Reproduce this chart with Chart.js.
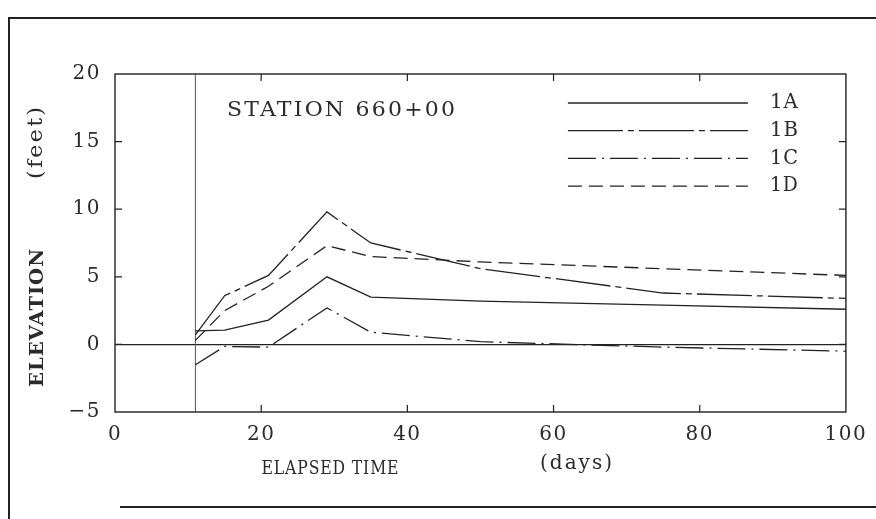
<!DOCTYPE html>
<html>
<head>
<meta charset="utf-8">
<script src="https://cdn.jsdelivr.net/npm/chart.js@4.4.1/dist/chart.umd.min.js"></script>
<style>
  html, body { margin: 0; padding: 0; background: #fff; }
  #wrap { position: relative; width: 876px; height: 519px; }
</style>
</head>
<body>
<div id="wrap"><canvas id="elevationChart" width="876" height="519"></canvas></div>
<script>
// Station 660+00 elevation readings (feet) vs elapsed time (days)
const days = [11, 15, 21, 29, 35, 50, 75, 100];
const elev1A = [1.0, 1.05, 1.8, 5.0, 3.5, 3.2, 2.9, 2.6];
const elev1B = [0.7, 3.6, 5.1, 9.8, 7.5, 5.6, 3.8, 3.4];
const elev1C = [-1.5, -0.15, -0.2, 2.7, 0.9, 0.2, -0.2, -0.5];
const elev1D = [0.3, 2.5, 4.3, 7.3, 6.5, 6.1, 5.6, 5.1];
const seriesNames = ['1A', '1B', '1C', '1D'];
const xTicks = [0, 20, 40, 60, 80, 100];
const yTicks = [-5, 0, 5, 10, 15, 20];
const startDay = 11; // readings start here (vertical marker)

const ink = '#222';
const textInk = '#2b2b2b';
const serif = '"DejaVu Serif", "Liberation Serif", serif';

function series(label, values, dash) {
    return {
        label: label,
        data: days.map((d, i) => ({ x: d, y: values[i] })),
        borderColor: ink,
        borderWidth: 1.3,
        borderDash: dash,
        pointRadius: 0,
        tension: 0,
        fill: false
    };
}

// draw text at a given size, squeezed or stretched sideways to span `width`
function spacedText(ctx, text, cx, cy, font, width, spacing, angle) {
    ctx.save();
    ctx.font = font;
    ctx.letterSpacing = spacing + 'px';
    const natural = ctx.measureText(text).width - spacing;
    ctx.translate(cx, cy);
    if (angle) ctx.rotate(angle);
    ctx.scale(width / natural, 1);
    ctx.fillStyle = textInk;
    ctx.textAlign = 'left';
    ctx.textBaseline = 'middle';
    ctx.fillText(text, -natural / 2, 0);
    ctx.restore();
}

const decorations = {
    id: 'decorations',
    beforeDraw(chart) {
        chart.ctx.letterSpacing = '1.5px';
    },
    afterDraw(chart) {
        const ctx = chart.ctx;
        const a = chart.chartArea;
        const xs = chart.scales.x, ys = chart.scales.y;
        ctx.save();
        ctx.letterSpacing = '0px';

        // plot box
        ctx.strokeStyle = ink;
        ctx.lineWidth = 1.4;
        ctx.strokeRect(a.left, a.top, a.right - a.left, a.bottom - a.top);

        // inward tick marks on all four sides
        ctx.lineWidth = 1.2;
        ctx.beginPath();
        xTicks.slice(1, -1).forEach(v => {
            const px = xs.getPixelForValue(v);
            ctx.moveTo(px, a.bottom); ctx.lineTo(px, a.bottom - 7);
            ctx.moveTo(px, a.top); ctx.lineTo(px, a.top + 7);
        });
        yTicks.slice(1, -1).forEach(v => {
            const py = ys.getPixelForValue(v);
            ctx.moveTo(a.left, py); ctx.lineTo(a.left + 7, py);
            ctx.moveTo(a.right, py); ctx.lineTo(a.right - 7, py);
        });
        ctx.stroke();

        // station label
        spacedText(ctx, 'STATION 660+00', 341, 111, '20px ' + serif, 228, 2);

        // legend, drawn with each dataset's own dash
        const legendX0 = a.right - 278, legendX1 = a.right - 98;
        seriesNames.forEach((name, i) => {
            const ds = chart.data.datasets.find(d => d.label === name);
            const y = a.top + 29 + i * 27.7;
            ctx.save();
            ctx.strokeStyle = ink;
            ctx.lineWidth = 1.3;
            ctx.setLineDash(ds.borderDash || []);
            ctx.beginPath();
            ctx.moveTo(legendX0, y);
            ctx.lineTo(legendX1, y);
            ctx.stroke();
            ctx.restore();
            spacedText(ctx, name, a.right - 62, y, '20px ' + serif, 28, 1);
        });

        // axis titles
        spacedText(ctx, 'ELEVATION', 38, 318, 'bold 19px ' + serif, 138, 1, -Math.PI / 2);
        spacedText(ctx, '(feet)', 37, 143, '20px ' + serif, 72, 2, -Math.PI / 2);
        spacedText(ctx, 'ELAPSED TIME', 330, 469, '18px ' + serif, 137, 1);
        spacedText(ctx, '(days)', 576, 464, '20px ' + serif, 72, 2);

        // outer frame of the scanned page
        ctx.strokeStyle = ink;
        ctx.lineWidth = 2;
        ctx.beginPath();
        ctx.moveTo(9, 519); ctx.lineTo(9, 18); ctx.lineTo(876, 18);
        ctx.moveTo(120, 507); ctx.lineTo(876, 507);
        ctx.stroke();
        ctx.restore();
    }
};

const ctx = document.getElementById('elevationChart').getContext('2d');
new Chart(ctx, {
    type: 'line',
    data: {
        datasets: [
            series('1A', elev1A, []),
            series('1B', elev1B, [55, 5, 6, 5]),
            series('1C', elev1C, [28, 6, 2, 6]),
            series('1D', elev1D, [14, 7]),
            {
                label: 'start',
                data: [{ x: startDay, y: yTicks[0] }, { x: startDay, y: yTicks[yTicks.length - 1] }],
                borderColor: '#555',
                borderWidth: 1,
                pointRadius: 0
            }
        ]
    },
    options: {
        responsive: false,
        animation: false,
        layout: { padding: { left: 0, top: 74, right: 28, bottom: 0 } },
        plugins: {
            legend: { display: false },
            tooltip: { enabled: false }
        },
        scales: {
            x: {
                type: 'linear',
                min: xTicks[0],
                max: xTicks[xTicks.length - 1],
                afterBuildTicks: s => { s.ticks = xTicks.map(v => ({ value: v })); },
                afterFit: s => { s.height = 107; },
                grid: { display: false, drawTicks: false },
                border: { display: false },
                ticks: {
                    autoSkip: false,
                    maxRotation: 0,
                    padding: 11,
                    color: textInk,
                    font: { family: serif, size: 20 }
                }
            },
            y: {
                type: 'linear',
                min: yTicks[0],
                max: yTicks[yTicks.length - 1],
                afterBuildTicks: s => { s.ticks = yTicks.map(v => ({ value: v })); },
                afterFit: s => { s.width = 115; },
                grid: {
                    drawTicks: false,
                    lineWidth: 1.3,
                    color: c => (c.tick && c.tick.value === 0) ? ink : 'rgba(0,0,0,0)'
                },
                border: { display: false },
                ticks: {
                    padding: 14,
                    color: textInk,
                    font: { family: serif, size: 20 },
                    callback: v => v < 0 ? '\u2212' + Math.abs(v) : String(v)
                }
            }
        }
    },
    plugins: [decorations]
});
</script>
</body>
</html>
